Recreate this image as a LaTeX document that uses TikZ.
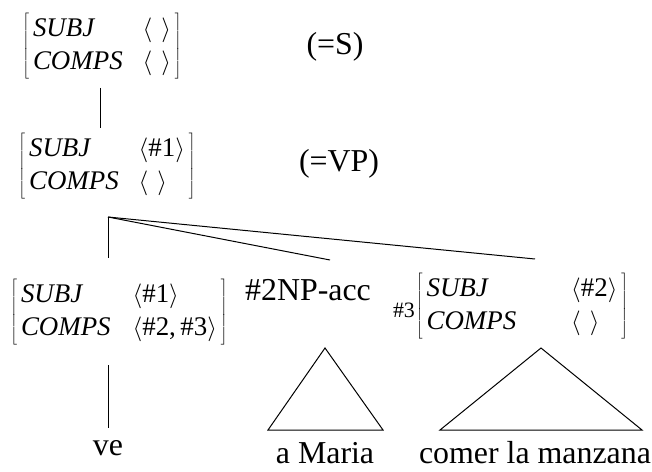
\documentclass[tikz,border=0pt]{standalone}
\usepackage{fontspec}
\setmainfont{Liberation Serif}
% attribute-value matrix with SUBJ and COMPS
\newcommand{\lst}[1]{$\Big\langle$#1$\Big\rangle$}
\newcommand{\avmbox}[3][20bp]{$\left[\begin{tabular}{@{\hspace{4bp}}l@{\hspace{#1}}l@{\hspace{4bp}}}\textit{SUBJ} & #2\\ \textit{COMPS} & #3\end{tabular}\right]$}
\begin{document}
\begin{tikzpicture}[x=1bp,y=-1bp,line width=1bp,
	avm/.style={inner sep=0pt,font=\fontsize{27}{33}\selectfont},
	word/.style={inner sep=0pt,font=\fontsize{32}{38}\selectfont}]
	\useasboundingbox (0,0) rectangle (652,472);
	%S and VP
	\node[avm] (s) at (102,46) {\avmbox{\lst{\,\,}}{\lst{\,\,}}};
	\node[word] (s-tag) at (335,47) {(=S)};
	\node[avm] (vp) at (107,166) {\avmbox{\lst{\#1}}{\lst{\,\,}}};
	\node[word] (vp-tag) at (339,164) {(=VP)};
	%daughters
	\node[avm] (v) at (119,312) {\avmbox[22bp]{\lst{\#1}}{\lst{\#2,\,\#3}}};
	\node[word] (np) at (308,290) {\#2NP-acc};
	\node[avm] (inf) at (522,306) {\avmbox[55bp]{\lst{\#2}}{\lst{\,\,}}};
	\node[inner sep=0pt,font=\fontsize{22}{26}\selectfont,anchor=east] (inf-tag) at ([yshift=-4bp]inf.west) {\#3};
	%words
	\node[word] (ve) at (108,448) {ve};
	\node[word] (maria) at (325,453) {a Maria};
	\node[word] (comer) at (535,453) {comer la manzana};
	% branches
	\coordinate (s-foot) at (100,88);
	\coordinate (vp-top) at (100,128);
	\coordinate (hub) at (108,217);
	\coordinate (v-top) at (108,258);
	\coordinate (np-top) at (330,260);
	\coordinate (inf-top) at (535,259);
	\coordinate (v-foot) at (108,365);
	\coordinate (ve-top) at (108,428);
	\draw (s-foot) -- (vp-top);
	\draw (hub) -- (v-top);
	\draw (hub) -- (np-top);
	\draw (hub) -- (inf-top);
	\draw (v-foot) -- (ve-top);
	%triangles
	\draw (325,348) -- (268,430) -- (383,430) -- cycle;
	\draw (541,348) -- (440,430) -- (642,430) -- cycle;
\end{tikzpicture}
\end{document}
